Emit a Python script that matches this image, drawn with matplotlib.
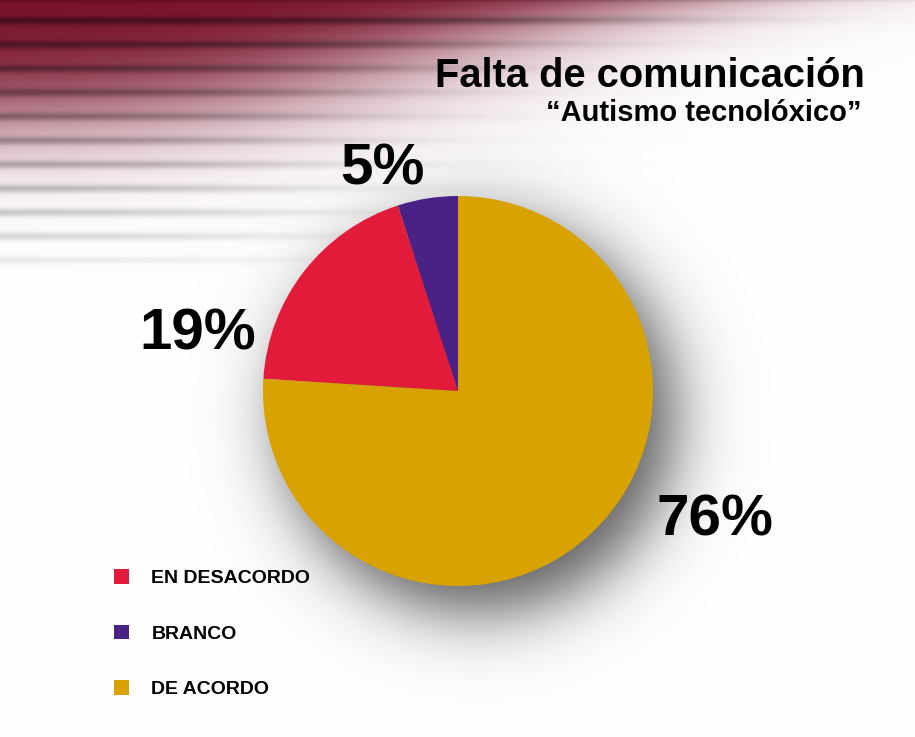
import numpy as np
import matplotlib
matplotlib.use("Agg")
import matplotlib.pyplot as plt
from matplotlib.patches import Patch

# ------------------------------------------------------------------
# Data
# ------------------------------------------------------------------
title = "Falta de comunicación"
subtitle = "\u201cAutismo tecnolóxico\u201d"

# legend order
categories = ["EN DESACORDO", "BRANCO", "DE ACORDO"]
values = [19, 5, 76]
colors = ["#e21b3a", "#4a2185", "#d8a300"]

# wedge order (counter-clockwise from 12 o'clock)
pie_order = [1, 0, 2]

# label positions in pixels (x, y from top), same order as categories
label_pos = [(198, 334), (382, 169), (715, 521)]

W, H = 915, 737
CX, CY, R = 458, 391, 195

plt.rcParams["font.family"] = ["Liberation Sans", "DejaVu Sans"]

# ------------------------------------------------------------------
# Background: faded dark-red stripes + soft pie shadow
# ------------------------------------------------------------------
Y, X = np.mgrid[0:H, 0:W].astype(float)

cx = 210.0 + 460.0 * np.exp(-Y / 70.0)
fx = 1 / (1 + np.exp((X - cx) / 105.0))
fy = 1 / (1 + np.exp((Y - 118.0) / 30.0))
s = fx * fy
red = np.array([118, 12, 38]) / 255.0
img = np.ones((H, W, 3)) * (1 - s[..., None]) + red * s[..., None]

period = 24.0
phase = ((Y - 20.0) % period) / period
dark = (np.exp(-(phase / 0.17) ** 2) + np.exp(-((phase - 1) / 0.17) ** 2))
cg = 250.0 + 560.0 * np.exp(-Y / 45.0)
gx = 1 / (1 + np.exp((X - cg) / 80.0))
gy = np.clip(1 - Y / 268.0, 0, 1)
img *= (1 - 0.42 * dark * gx * gy ** 0.5)[..., None]

d = np.hypot(X - (CX + 20), Y - (CY + 25))
alpha = 0.64 / (1 + np.exp((d - R) / 20.0))
img *= (1 - alpha)[..., None]
img = np.clip(img, 0, 1)

fig = plt.figure(figsize=(W / 100, H / 100), dpi=100)
ax = fig.add_axes([0, 0, 1, 1])
ax.imshow(img, extent=[0, W, 0, H], origin="upper", interpolation="bilinear", zorder=0)

# ------------------------------------------------------------------
# Pie
# ------------------------------------------------------------------
ax.pie(
    [values[i] for i in pie_order],
    colors=[colors[i] for i in pie_order],
    startangle=90,
    counterclock=True,
    center=(CX, H - CY),
    radius=R,
    frame=True,
    wedgeprops=dict(linewidth=0),
)
ax.set_xlim(0, W)
ax.set_ylim(0, H)
ax.set_aspect("equal")
ax.axis("off")

for v, (px, py) in zip(values, label_pos):
    ax.text(px, H - py, f"{v}%", ha="center", va="center",
            fontsize=42, fontweight="bold", color="black")

# ------------------------------------------------------------------
# Titles
# ------------------------------------------------------------------
ax.text(865, H - 87, title, ha="right", va="baseline",
        fontsize=28.7, fontweight="bold", color="black")
ax.text(862, H - 121, subtitle, ha="right", va="baseline",
        fontsize=21, fontweight="bold", color="black")

# ------------------------------------------------------------------
# Legend
# ------------------------------------------------------------------
handles = [Patch(facecolor=c, edgecolor="none") for c in colors]
leg = ax.legend(
    handles, categories,
    loc="upper left",
    bbox_to_anchor=(114 / W, 1 - 569 / H),
    bbox_transform=fig.transFigure,
    frameon=False,
    prop=dict(size=14, weight="bold"),
    handlelength=0.78, handleheight=0.78,
    handletextpad=1.14, labelspacing=1.93,
    borderpad=0, borderaxespad=0,
)

fig.savefig("out.png", dpi=100)
